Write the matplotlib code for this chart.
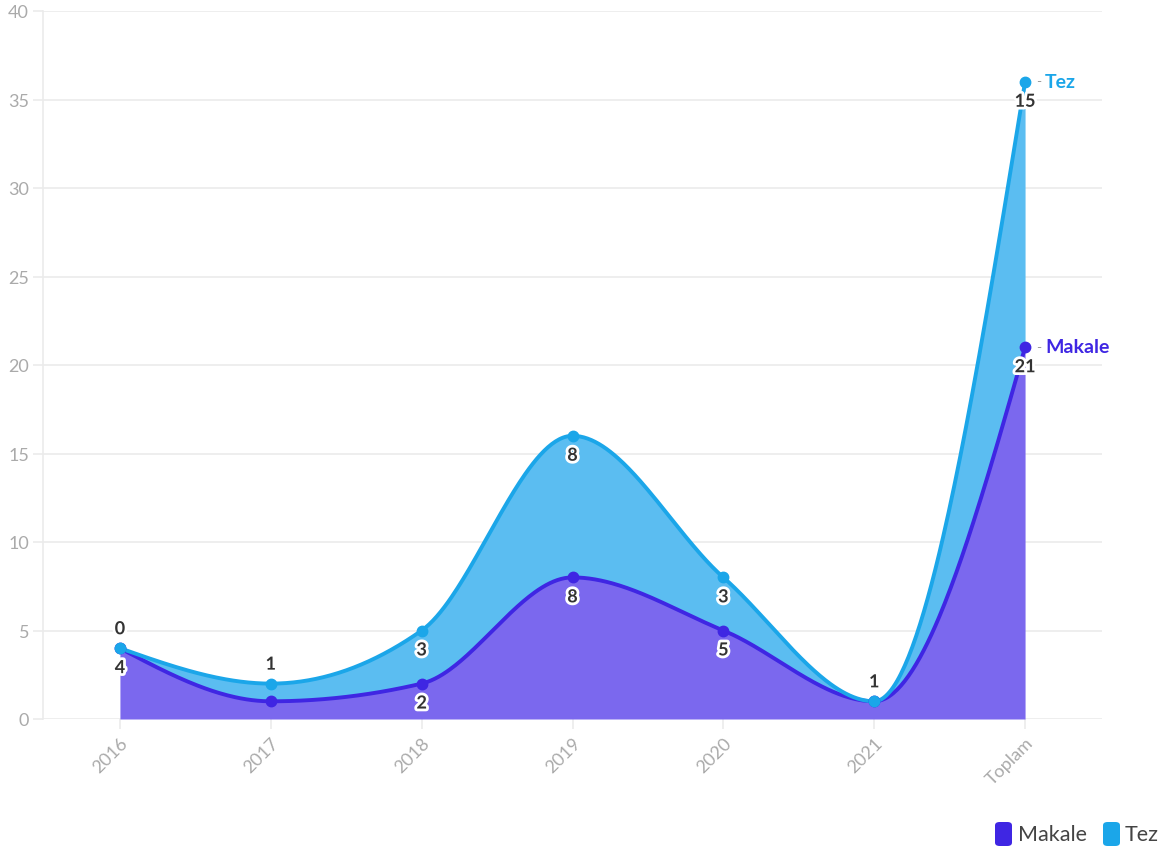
import numpy as np
import matplotlib
matplotlib.use("Agg")
import matplotlib.pyplot as plt
import matplotlib.patheffects as pe
from matplotlib.patches import FancyBboxPatch

categories = ["2016", "2017", "2018", "2019", "2020", "2021", "Toplam"]
makale = [4, 1, 2, 8, 5, 1, 21]
tez = [0, 1, 3, 8, 3, 0, 15]
y_ticks = [0, 5, 10, 15, 20, 25, 30, 35, 40]
series_names = ["Makale", "Tez"]

# label placement style (+1 above, -1 below, 0 hidden)
makale_label_pos = [-1, 0, -1, -1, -1, 1, -1]
tez_label_pos = [1, 1, -1, -1, -1, 0, -1]

C_MAK_LINE = "#3F26E3"
C_MAK_FILL = "#7B68EE"
C_TEZ_LINE = "#1BA6E9"
C_TEZ_FILL = "#5BBDF1"
C_GRID = "#ebebeb"
C_TICK = "#aaaaaa"

plt.rcParams['font.family'] = ['Lato', 'DejaVu Sans']


def monotone_x(x, y, n=80):
    x = np.asarray(x, float)
    y = np.asarray(y, float)
    m = len(x)
    h = np.diff(x)
    s = np.diff(y) / h
    t = np.zeros(m)
    sg = lambda v: -1.0 if v < 0 else 1.0
    for i in range(1, m - 1):
        s0, s1 = s[i - 1], s[i]
        h0, h1 = h[i - 1], h[i]
        p = (s0 * h1 + s1 * h0) / (h0 + h1)
        t[i] = (sg(s0) + sg(s1)) * min(abs(s0), abs(s1), 0.5 * abs(p))
    t[0] = (3 * s[0] - t[1]) / 2
    t[-1] = (3 * s[-1] - t[-2]) / 2
    xs, ys = [], []
    for i in range(m - 1):
        u = np.linspace(0, 1, n, endpoint=(i == m - 2))
        h00 = 2 * u**3 - 3 * u**2 + 1
        h10 = u**3 - 2 * u**2 + u
        h01 = -2 * u**3 + 3 * u**2
        h11 = u**3 - u**2
        xs.append(x[i] + u * h[i])
        ys.append(h00 * y[i] + h10 * h[i] * t[i] + h01 * y[i + 1] + h11 * h[i] * t[i + 1])
    return np.concatenate(xs), np.concatenate(ys)


W, H = 1166, 853
fig = plt.figure(figsize=(W / 100, H / 100), dpi=100)
ax = fig.add_axes([43 / W, 1 - 720 / H, (1102 - 43) / W, (720 - 12) / H])

xi = np.arange(len(categories))
mak = np.array(makale, float)
tot = mak + np.array(tez, float)

xs, ym = monotone_x(xi, mak)
_, yt = monotone_x(xi, tot)

ax.fill_between(xs, 0, ym, color=C_MAK_FILL, lw=0, zorder=2)
ax.fill_between(xs, ym, yt, color=C_TEZ_FILL, lw=0, zorder=2)
ax.plot(xs, ym, color=C_MAK_LINE, lw=2.8, zorder=3, solid_capstyle='round')
ax.plot(xs, yt, color=C_TEZ_LINE, lw=2.8, zorder=4, solid_capstyle='round')
ax.plot(xi, mak, 'o', color=C_MAK_LINE, ms=7.5, zorder=5)
ax.plot(xi, tot, 'o', color=C_TEZ_LINE, ms=7.5, zorder=6)

stroke = [pe.withStroke(linewidth=4, foreground='white')]
for i in range(len(categories)):
    if makale_label_pos[i] != 0:
        ax.annotate(str(makale[i]), (xi[i], mak[i]), xytext=(0, 14 * makale_label_pos[i]),
                    textcoords='offset points', ha='center', va='center',
                    fontsize=13, fontweight='bold', color='#333333', path_effects=stroke, zorder=8)
    if tez_label_pos[i] != 0:
        ax.annotate(str(tez[i]), (xi[i], tot[i]), xytext=(0, 14 * tez_label_pos[i]),
                    textcoords='offset points', ha='center', va='center',
                    fontsize=13, fontweight='bold', color='#333333', path_effects=stroke, zorder=8)

# end labels
for val, name, col in [(tot[-1], series_names[1], C_TEZ_LINE), (mak[-1], series_names[0], C_MAK_LINE)]:
    ax.annotate("-", (xi[-1], val), xytext=(8, 0.5), textcoords='offset points',
                ha='left', va='center', fontsize=10, color='#999999', zorder=8)
    ax.annotate(name, (xi[-1], val), xytext=(14.5, 0.5), textcoords='offset points',
                ha='left', va='center', fontsize=14, fontweight='bold', color=col, zorder=8,
                annotation_clip=False)

ax.set_xlim(-0.51, len(categories) - 1 + 0.51)
ax.set_ylim(0, 40)
ax.set_yticks(y_ticks)
ax.set_yticklabels([str(v) for v in y_ticks])
ax.set_xticks(xi)
ax.set_xticklabels(categories, rotation=45, ha='right', va='top', rotation_mode='anchor')
ax.grid(axis='y', color=C_GRID, lw=1.2, zorder=0)
ax.set_axisbelow(True)
for sp in ['top', 'right', 'bottom']:
    ax.spines[sp].set_visible(False)
ax.spines['left'].set_color(C_GRID)
ax.spines['left'].set_linewidth(1.2)
ax.tick_params(axis='y', length=7, color=C_GRID, width=1.2, labelcolor=C_TICK, labelsize=13, pad=3)
ax.tick_params(axis='x', length=7, color=C_GRID, width=1.2, labelcolor=C_TICK, labelsize=13, pad=4)

# legend
def fx(px):
    return px / W

def fy(py):
    return 1 - py / H

for (x0, col, label, tx) in [(995, C_MAK_LINE, series_names[0], 1018), (1103, C_TEZ_LINE, series_names[1], 1125)]:
    box = FancyBboxPatch((fx(x0), fy(847)), fx(17), 24 / H,
                         boxstyle="round,pad=0,rounding_size=0.004",
                         transform=fig.transFigure, facecolor=col, edgecolor='none')
    fig.add_artist(box)
    fig.text(fx(tx), fy(835), label, ha='left', va='center', fontsize=15.5, color='#444444')

fig.savefig("out.png", dpi=100)
